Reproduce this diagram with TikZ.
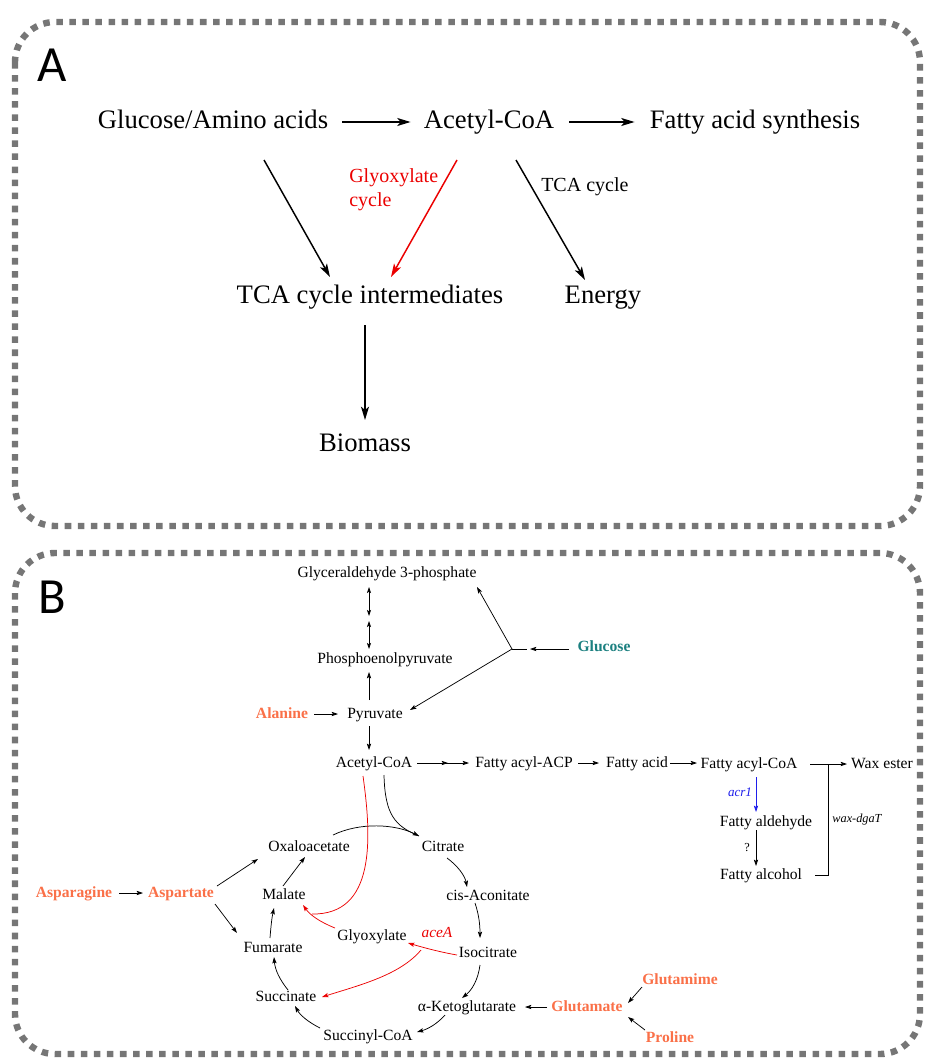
\documentclass[tikz,border=0pt]{standalone}
\usepackage{fontspec}
\setmainfont{Liberation Serif}
\newfontfamily\labfont{Carlito}
\usetikzlibrary{arrows.meta,calc}
\definecolor{bordergray}{RGB}{118,118,118}
\definecolor{aaorange}{RGB}{250,112,72}
\definecolor{glcteal}{RGB}{28,128,128}
\definecolor{pathred}{RGB}{235,0,0}
\definecolor{geneblue}{RGB}{30,30,235}
\begin{document}
\begin{tikzpicture}[x=0.75pt,y=-0.75pt,
  panel/.style={draw=bordergray, line width=4.8pt, dash pattern=on 4.9pt off 4.9pt, rounded corners=30pt},
  letter/.style={font=\labfont\fontsize{38}{40}\selectfont, inner sep=0pt},
  big/.style={font=\fontsize{20}{22}\selectfont, inner sep=0pt, text height=14pt, text depth=4.5pt},
  mid/.style={font=\fontsize{15}{18}\selectfont, inner sep=0pt},
  sm/.style={font=\fontsize{11.7}{13}\selectfont, inner sep=0pt, text height=8.5pt, text depth=2.5pt},
  aa/.style={sm, font=\fontsize{11.7}{13}\selectfont\bfseries, text=aaorange},
  gene/.style={inner sep=0pt, font=\fontsize{9.5}{11}\selectfont\itshape},
  bigarrow/.style={line width=1.1pt, -{Stealth[length=10pt,width=6pt,inset=2.5pt]}},
  smline/.style={line width=0.55pt},
  smarrow/.style={smline, -{Stealth[length=4.8pt,width=3.2pt,inset=1pt]}},
  dblarrow/.style={smline, {Stealth[length=4.5pt,width=3pt,inset=1pt]}-{Stealth[length=4.5pt,width=3pt,inset=1pt]}},
]
\useasboundingbox (0,0) rectangle (925,1059);

% ---------------- Panel A ----------------
\draw[panel] (15,22) rectangle (920,526);
\node[letter] (labA) at (52,65) {A};
\node[big] (glc) at (213,122) {Glucose/Amino acids};
\node[big] (aco) at (489,122) {Acetyl-CoA};
\node[big] (fas) at (755,122) {Fatty acid synthesis};
\node[big] (tcai) at (370,297) {TCA cycle intermediates};
\node[big] (energy) at (603,297) {Energy};
\node[big] (bio) at (365,445) {Biomass};
\node[mid, text=pathred, align=left, anchor=west] (glylab) at (349,190) {Glyoxylate\\cycle};
\node[mid, anchor=west] (tcalab) at (541,187) {TCA cycle};

\draw[bigarrow] ($(glc.east)+(14,0)$) -- ($(aco.west)+(-13,0)$);
\draw[bigarrow] ($(aco.east)+(15,0)$) -- ($(fas.west)+(-15,0)$);
\draw[bigarrow] ($(glc)+(51,38)$) -- ($(tcai)+(-40,-20)$);
\draw[bigarrow, draw=pathred] ($(aco)+(-32,38)$) -- ($(tcai)+(21,-20)$);
\draw[bigarrow] ($(aco)+(27,38)$) -- ($(energy)+(-18,-17)$);
\draw[bigarrow] ($(tcai)+(-5,28)$) -- ($(bio)+(0,-25)$);

% ---------------- Panel B ----------------
\draw[panel] (15,553) rectangle (920,1054);
\node[letter] (labB) at (52,597) {B};

\node[sm] (gap) at (387,573) {Glyceraldehyde 3-phosphate};
\node[sm] (pep) at (385,659) {Phosphoenolpyruvate};
\node[aa] (ala) at (282,714) {Alanine};
\node[sm] (pyr) at (375,714) {Pyruvate};
\node[sm, font=\fontsize{11.7}{13}\selectfont\bfseries, text=glcteal] (glu) at (604,647) {Glucose};
\node[sm] (acb) at (374,763) {Acetyl-CoA};
\node[sm] (facp) at (524,763) {Fatty acyl-ACP};
\node[sm] (fa) at (637,763) {Fatty acid};
\node[sm] (facoa) at (749,764) {Fatty acyl-CoA};
\node[sm] (wax) at (882,764) {Wax ester};
\node[gene, font=\fontsize{9.8}{11}\selectfont\itshape, text=geneblue] (acr) at (740,792) {acr1};
\node[gene, font=\fontsize{9.2}{11}\selectfont\itshape] (wdg) at (857,820) {wax-dgaT};
\node[sm] (fald) at (766,822) {Fatty aldehyde};
\node[gene, font=\fontsize{9.2}{11}\selectfont] (q) at (747,848) {?};
\node[sm] (falc) at (761,875) {Fatty alcohol};
\node[sm] (oaa) at (309,847) {Oxaloacetate};
\node[sm] (cit) at (443,847) {Citrate};
\node[aa] (asn) at (74,893) {Asparagine};
\node[aa] (asp) at (181,893) {Aspartate};
\node[sm] (mal) at (284,895) {Malate};
\node[sm] (cis) at (488,896) {cis-Aconitate};
\node[sm] (glx) at (372,936) {Glyoxylate};
\node[gene, font=\fontsize{11.5}{13}\selectfont\itshape, text=pathred] (acea) at (437,933) {aceA};
\node[sm] (fum) at (273,948) {Fumarate};
\node[sm] (icit) at (488,953) {Isocitrate};
\node[sm] (suc) at (286,997) {Succinate};
\node[sm] (akg) at (467,1007) {α-Ketoglutarate};
\node[aa] (glut) at (587,1007) {Glutamate};
\node[aa] (gln) at (680,980) {Glutamime};
\node[aa] (pro) at (670,1038) {Proline};
\node[sm] (sca) at (368,1036) {Succinyl-CoA};

% glycolysis part
\draw[dblarrow] ($(gap)+(-18,14)$) -- ($(gap)+(-18,43)$);
\draw[dblarrow] ($(pep)+(-16,-38)$) -- ($(pep)+(-16,-10)$);
\draw[smarrow] ($(pyr)+(-6,-14)$) -- ($(pep)+(-16,13)$);
\draw[smarrow] ($(ala)+(32,0)$) -- ($(pyr)+(-37,0)$);
\coordinate (J) at ($(glu)+(-92,2)$);
\draw[smarrow] (J) -- ($(gap)+(90,14)$);
\draw[smarrow] (J) -- ($(pyr)+(35,-4)$);
\draw[smline] (J) -- ($(glu)+(-77,2)$);
\draw[smarrow] ($(glu)+(-35,2)$) -- ($(glu)+(-74,2)$);
\draw[smarrow] ($(pyr)+(-6,12)$) -- ($(acb)+(-5,-13)$);

% fatty acid part
\draw[smarrow] ($(acb)+(43,0)$) -- ($(facp)+(-76,0)$);
\draw[smarrow] ($(facp)+(-79,0)$) -- ($(facp)+(-55,0)$);
\draw[smarrow] ($(facp)+(54,0)$) -- ($(fa)+(-38,0)$);
\draw[smarrow] ($(fa)+(33,0)$) -- ($(facoa)+(-52,-1)$);
\draw[smarrow] ($(facoa)+(61,0)$) -- ($(wax)+(-35,0)$);
\coordinate (wj) at ($(facoa)+(79,0)$);
\draw[smline] ($(falc)+(54,0)$) -| (wj);
\draw[smarrow, draw=geneblue] ($(facoa)+(7,13)$) -- ($(fald)+(-10,-10)$);
\draw[smarrow] ($(fald)+(-10,8)$) -- ($(falc)+(-5,-9)$);

% amino acid inputs
\draw[smarrow] ($(asn)+(45,0)$) -- ($(asp)+(-38,0)$);
\draw[smarrow] ($(asp)+(36,-7)$) -- ($(oaa)+(-51,12)$);
\draw[smarrow] ($(asp)+(34,11)$) -- ($(fum)+(-36,-15)$);
\draw[smarrow] ($(glut)+(-40,0)$) -- ($(akg)+(58,0)$);
\draw[smarrow] ($(gln)+(-38,7)$) -- ($(glut)+(41,-4)$);
\draw[smarrow] ($(pro)+(-25,-8)$) -- ($(glut)+(41,10)$);

% TCA cycle
\draw[smarrow] ($(mal)+(-1,-9)$) -- ($(oaa)+(-4,10)$);
\draw[smarrow] ($(oaa)+(24,-12)$) .. controls ($(oaa)+(51,-25)$) and ($(cit)+(-48,-23)$) .. ($(cit)+(-24,-11)$);
\draw[smline] ($(acb)+(10,12)$) .. controls ($(acb)+(11,52)$) and ($(cit)+(-48,-21)$) .. ($(cit)+(-24,-11)$);
\draw[smarrow] ($(cit)+(4,11)$) .. controls ($(cit)+(15,19)$) and ($(cis)+(-23,-20)$) .. ($(cis)+(-21,-9)$);
\draw[smarrow] ($(cis)+(-13,7)$) .. controls ($(cis)+(-9,19)$) and ($(icit)+(-8,-28)$) .. ($(icit)+(-8,-15)$);
\draw[smarrow] ($(icit)+(-8,12)$) .. controls ($(icit)+(-10,27)$) and ($(akg)+(5,-17)$) .. ($(akg)+(-5,-9)$);
\draw[smarrow] ($(akg)+(-22,8)$) .. controls ($(akg)+(-30,17)$) and ($(sca)+(60,-7)$) .. ($(sca)+(49,-4)$);
\draw[smarrow] ($(sca)+(-48,-8)$) .. controls ($(sca)+(-60,-14)$) and ($(suc)+(14,18)$) .. ($(suc)+(9,9)$);
\draw[smarrow] ($(suc)+(2,-7)$) .. controls ($(suc)+(-6,-17)$) and ($(fum)+(2,22)$) .. ($(fum)+(1,9)$);
\draw[smarrow] ($(fum)+(-3,-10)$) .. controls ($(fum)+(-2,-23)$) and ($(mal)+(-12,22)$) .. ($(mal)+(-10,13)$);

% glyoxylate shunt (red)
\draw[smline, draw=pathred] ($(acb)+(-11,13)$) .. controls ($(acb)+(-2,77)$) and ($(mal)+(91,20)$) .. ($(mal)+(28,19)$);
\draw[smarrow, draw=pathred] ($(glx)+(-37,-8)$) .. controls ($(glx)+(-52,-14)$) and ($(mal)+(26,20)$) .. ($(mal)+(19,10)$);
\draw[smarrow, draw=pathred] ($(icit)+(-31,2)$) .. controls ($(icit)+(-48,-1)$) and ($(glx)+(53,12)$) .. ($(glx)+(36,7)$);
\draw[smarrow, draw=pathred] ($(icit)+(-67,-3)$) .. controls ($(icit)+(-88,22)$) and ($(suc)+(74,-12)$) .. ($(suc)+(36,0)$);
\end{tikzpicture}
\end{document}
